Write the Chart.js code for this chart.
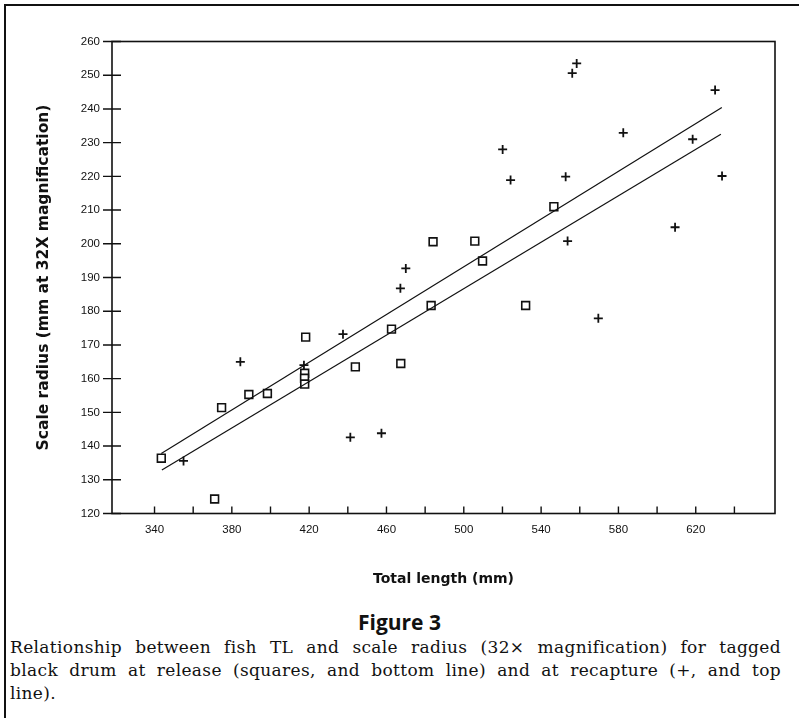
<!DOCTYPE html>
<html>
<head>
<meta charset="utf-8">
<script src="https://cdn.jsdelivr.net/npm/chart.js@4/dist/chart.umd.min.js"></script>
<style>
  html, body { margin: 0; padding: 0; background: #fff; }
  #page { position: relative; width: 799px; height: 718px; overflow: hidden; background: #fff; }
  #frame { position: absolute; left: 4px; top: 4px; width: 820px; height: 760px; border-left: 2px solid #111; border-top: 2px solid #111; }
  #wrap { position: absolute; left: 0; top: 0; width: 799px; height: 600px; }
  #fig { position: absolute; left: 0; width: 799px; top: 608px; text-align: center; font-family: "Open Sans", sans-serif; font-weight: 700; font-size: 21px; color: #111; line-height: 28px; }
  .cap { position: absolute; left: 10px; width: 771px; font-family: "DejaVu Serif", serif; font-size: 17px; letter-spacing: 0.35px; color: #111; line-height: 20px; white-space: nowrap; }
  .just { text-align: justify; text-align-last: justify; white-space: normal; }
</style>
</head>
<body>
<div id="page">
  <div id="frame"></div>
  <div id="wrap"><canvas id="c" width="799" height="600"></canvas></div>
  <div id="fig">Figure 3</div>
  <div class="cap just" style="top:637px;">Relationship between fish TL and scale radius (32× magnification) for tagged</div>
  <div class="cap just" style="top:660px;">black drum at release (squares, and bottom line) and at recapture (+, and top</div>
  <div class="cap" style="top:683px;">line).</div>
</div>
<script>
// Release (squares)
const releaseTL = [343.5, 371.1, 374.7, 388.8, 398.4, 418.2, 417.7, 417.6, 417.7, 443.9, 462.6, 467.4, 483.1, 484.1, 505.7, 509.7, 532.0, 546.6];
const releaseSR = [136.4, 124.3, 151.4, 155.3, 155.6, 172.3, 161.6, 160.1, 158.4, 163.5, 174.7, 164.5, 181.7, 200.6, 200.8, 194.9, 181.7, 211.0];
// Recapture (+)
const recapTL = [355.0, 384.4, 417.3, 437.5, 441.3, 457.4, 467.2, 470.0, 520.1, 524.2, 552.7, 553.7, 556.1, 558.4, 569.6, 582.5, 609.3, 618.4, 630.0, 633.6];
const recapSR = [135.6, 165.0, 164.0, 173.2, 142.6, 143.8, 186.8, 192.7, 228.0, 218.9, 219.9, 200.8, 250.6, 253.5, 177.9, 232.9, 204.9, 231.0, 245.6, 220.1];
// Fitted lines (end points)
const releaseLineTL = [343.8, 633.0];
const releaseLineSR = [132.9, 232.5];
const recapLineTL = [343.5, 633.5];
const recapLineSR = [137.8, 240.4];
// Axis ticks
const xTickValues = [340, 360, 380, 400, 420, 440, 460, 480, 500, 520, 540, 560, 580, 600, 620, 640];
const xLabelValues = [340, 380, 420, 460, 500, 540, 580, 620];
const yTickValues = [120, 130, 140, 150, 160, 170, 180, 190, 200, 210, 220, 230, 240, 250, 260];

const toPts = (xs, ys) => xs.map((x, i) => ({ x: x, y: ys[i] }));

const framePlugin = {
  id: 'framePlugin',
  afterDraw(chart) {
    const ctx = chart.ctx;
    const a = chart.chartArea;
    const xs = chart.scales.x, ys = chart.scales.y;
    ctx.save();
    ctx.strokeStyle = '#111';
    ctx.lineWidth = 1.6;
    ctx.strokeRect(a.left, a.top, a.right - a.left, a.bottom - a.top);
    ctx.lineWidth = 1.4;
    ctx.beginPath();
    yTickValues.forEach(v => {
      const y = ys.getPixelForValue(v);
      ctx.moveTo(a.left - 9, y);
      ctx.lineTo(a.left + 9, y);
    });
    xTickValues.forEach(v => {
      const x = xs.getPixelForValue(v);
      ctx.moveTo(x, a.bottom);
      ctx.lineTo(x, a.bottom - 7);
    });
    ctx.stroke();
    ctx.restore();
  }
};

new Chart(document.getElementById('c'), {
  type: 'scatter',
  data: {
    datasets: [
      {
        label: 'Recapture fit',
        data: toPts(recapLineTL, recapLineSR),
        showLine: true, borderColor: '#111', borderWidth: 1.2,
        pointRadius: 0, fill: false
      },
      {
        label: 'Release fit',
        data: toPts(releaseLineTL, releaseLineSR),
        showLine: true, borderColor: '#111', borderWidth: 1.2,
        pointRadius: 0, fill: false
      },
      {
        label: 'Release',
        data: toPts(releaseTL, releaseSR),
        pointStyle: 'rect', pointRadius: 5.5, pointBorderWidth: 1.6,
        borderColor: '#111', backgroundColor: '#fff', showLine: false
      },
      {
        label: 'Recapture',
        data: toPts(recapTL, recapSR),
        pointStyle: 'cross', pointRadius: 4.5, pointBorderWidth: 1.8,
        borderColor: '#111', backgroundColor: '#111', showLine: false
      }
    ]
  },
  options: {
    responsive: false,
    animation: false,
    devicePixelRatio: 1,
    layout: { padding: { left: 0, right: 24, top: 41.5, bottom: 0 } },
    plugins: { legend: { display: false }, tooltip: { enabled: false } },
    scales: {
      x: {
        type: 'linear', min: 318, max: 661,
        grid: { display: false, drawTicks: false },
        border: { display: false },
        afterBuildTicks: s => { s.ticks = xTickValues.map(v => ({ value: v })); },
        afterFit: s => { s.height = 86.5; },
        ticks: {
          autoSkip: false, maxRotation: 0, padding: 9, color: '#111',
          font: { family: 'Liberation Sans', size: 11.5 },
          callback: v => xLabelValues.includes(v) ? String(v) : ''
        },
        title: {
          display: true, text: 'Total length (mm)', color: '#111',
          font: { family: 'DejaVu Sans', size: 14, weight: 'bold' },
          padding: { top: 0, bottom: 12 }
        }
      },
      y: {
        type: 'linear', min: 120, max: 260,
        grid: { display: false, drawTicks: false },
        border: { display: false },
        afterBuildTicks: s => { s.ticks = yTickValues.map(v => ({ value: v })); },
        afterFit: s => { s.width = 112; },
        ticks: {
          autoSkip: false, padding: 12, color: '#111',
          font: { family: 'Liberation Sans', size: 11.5 }
        },
        title: {
          display: true, text: 'Scale radius (mm at 32X magnification)', color: '#111',
          font: { family: 'DejaVu Sans', size: 15.5, weight: 'bold' },
          padding: { top: 35, bottom: 0 }
        }
      }
    }
  },
  plugins: [framePlugin]
});
</script>
</body>
</html>
